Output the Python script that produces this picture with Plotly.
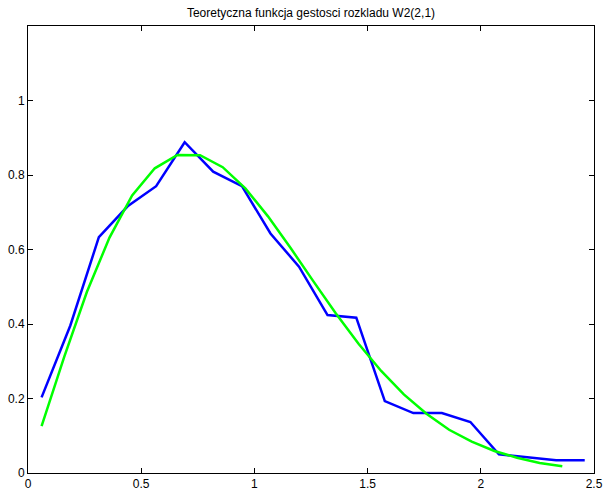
import plotly.graph_objects as go

# Empirical (histogram) density - blue
hist_x = [0.060, 0.187, 0.313, 0.440, 0.566, 0.692, 0.818, 0.945, 1.071, 1.197,
          1.323, 1.450, 1.576, 1.702, 1.828, 1.954, 2.080, 2.207, 2.333, 2.459]
hist_y = [0.203, 0.396, 0.633, 0.716, 0.770, 0.888, 0.809, 0.770, 0.643, 0.554,
          0.424, 0.417, 0.193, 0.161, 0.161, 0.137, 0.050, 0.042, 0.034, 0.034]

# Theoretical density - green
theo_x = [0.06, 0.16, 0.26, 0.36, 0.46, 0.56, 0.66, 0.76, 0.86, 0.96, 1.06, 1.16,
          1.26, 1.36, 1.46, 1.56, 1.66, 1.76, 1.86, 1.96, 2.06, 2.16, 2.26, 2.36]
theo_y = [0.126, 0.312, 0.486, 0.632, 0.745, 0.818, 0.854, 0.853, 0.821, 0.764,
          0.689, 0.604, 0.515, 0.428, 0.347, 0.274, 0.211, 0.159, 0.116, 0.084,
          0.059, 0.041, 0.027, 0.018]

x_ticks = [0, 0.5, 1, 1.5, 2, 2.5]
x_labels = ["0", "0.5", "1", "1.5", "2", "2.5"]
y_ticks = [0, 0.2, 0.4, 0.6, 0.8, 1]
y_labels = ["0", "0.2", "0.4", "0.6", "0.8", "1"]

title = "Teoretyczna funkcja gestosci rozkladu W2(2,1)"
FONT = "Liberation Sans, Arial, Helvetica"

fig = go.Figure()
fig.add_trace(go.Scatter(x=hist_x, y=hist_y, mode="lines",
                         line=dict(color="#0000ff", width=2.5), showlegend=False))
fig.add_trace(go.Scatter(x=theo_x, y=theo_y, mode="lines",
                         line=dict(color="#00ff00", width=2.5), showlegend=False))

axis_common = dict(showgrid=False, zeroline=False, showline=True, linecolor="black",
                   linewidth=1, mirror="ticks", ticks="inside", ticklen=5,
                   tickcolor="black", tickwidth=1, automargin=False,
                   tickfont=dict(family=FONT, size=12, color="black"))

fig.update_xaxes(range=[0, 2.5], tickvals=x_ticks, ticktext=x_labels, **axis_common)
fig.update_yaxes(range=[0, 1.2], tickvals=y_ticks, ticktext=y_labels, **axis_common)

fig.update_layout(
    width=605, height=491,
    margin=dict(l=28, r=11, t=26, b=18, autoexpand=False),
    paper_bgcolor="white", plot_bgcolor="white",
    title=dict(text=title, x=0.5, xref="paper", xanchor="center",
               y=1 - 13 / 491, yref="container", yanchor="middle", automargin=False,
               font=dict(family=FONT, size=12, color="black")),
)

fig.write_html("out.html")
